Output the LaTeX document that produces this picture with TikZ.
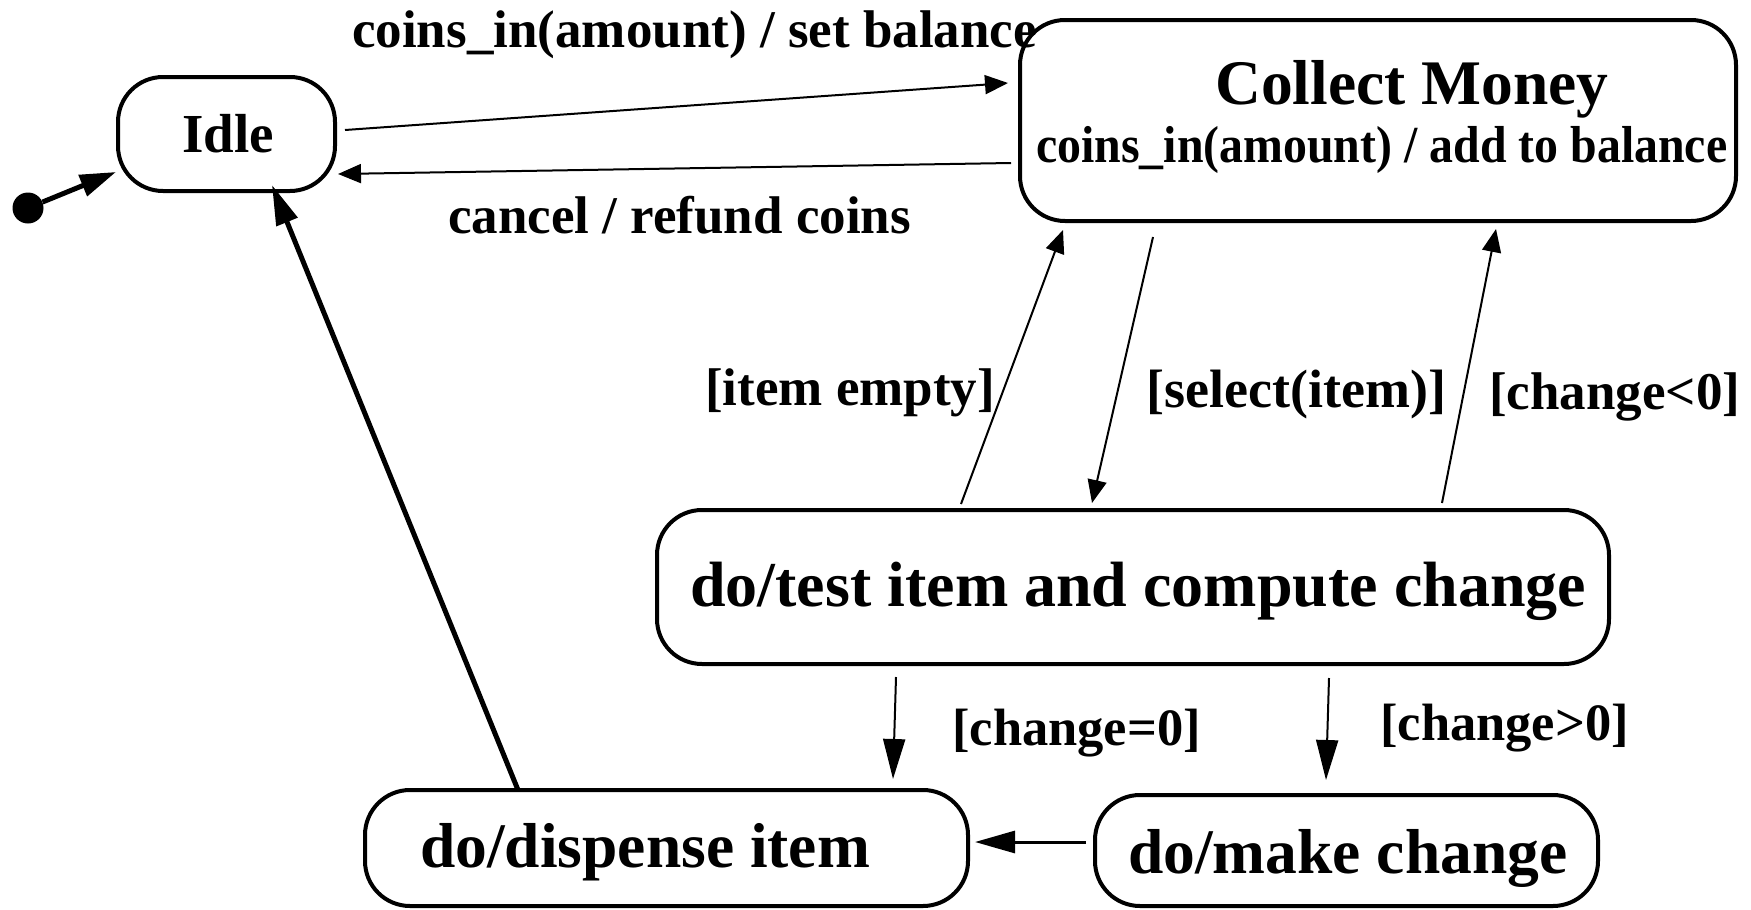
\documentclass[tikz,border=0pt]{standalone}
\usepackage{fontspec}
\setmainfont{Liberation Serif}
\usetikzlibrary{arrows.meta}
\begin{document}
\begin{tikzpicture}[x=1pt,y=-1pt,
  box/.style={draw,line width=4pt,rounded corners=45pt,inner sep=0pt},
  lbl/.style={inner sep=0pt,anchor=base west,font=\bfseries},
  shorthead/.style={line width=2pt,-{Triangle[length=23pt,width=19pt]}},
  longhead/.style={line width=2pt,-{Triangle[length=40pt,width=22pt]}}]
\useasboundingbox[fill=white] (0,0) rectangle (1751,910);

% states
\node[box,minimum width=217pt,minimum height=114pt] (idle) at (226.5,134) {};
\node[box,minimum width=716pt,minimum height=201pt] (collect) at (1378,120.5) {};
\node[box,minimum width=952pt,minimum height=154pt] (test) at (1133,587) {};
\node[box,minimum width=603pt,minimum height=116pt] (dispense) at (666.5,848) {};
\node[box,minimum width=503pt,minimum height=111pt] (make) at (1346.5,850.5) {};
\node[circle,fill,minimum size=31pt,inner sep=0pt] (init) at (28,208) {};

% state texts
\node[lbl,font=\bfseries\fontsize{55}{60}\selectfont] (tidle) at (182,152) {Idle};
\node[lbl,font=\bfseries\fontsize{63.5}{70}\selectfont] (tcollect) at (1215,104) {Collect Money};
\node[lbl,font=\bfseries\fontsize{52}{60}\selectfont] (tcoins) at (1036,162) {\scalebox{0.92}[1]{coins\_in(amount) / add to balance}};
\node[lbl,font=\bfseries\fontsize{64}{70}\selectfont] (ttest) at (690,606) {do/test item and compute change};
\node[lbl,font=\bfseries\fontsize{63.5}{70}\selectfont] (tdisp) at (420,867) {do/dispense item};
\node[lbl,font=\bfseries\fontsize{63.5}{70}\selectfont] (tmake) at (1128,873) {do/make change};

% transition labels
\node[lbl,font=\bfseries\fontsize{53}{60}\selectfont] (l1) at (352,47) {coins\_in(amount) / set balance};
\node[lbl,font=\bfseries\fontsize{53}{60}\selectfont] (l2) at (448,233) {cancel / refund coins};
\node[lbl,font=\bfseries\fontsize{53}{60}\selectfont] (l3) at (705,405) {[item empty]};
\node[lbl,font=\bfseries\fontsize{54}{60}\selectfont] (l4) at (1146,407) {[select(item)]};
\node[lbl,font=\bfseries\fontsize{53}{60}\selectfont] (l5) at (1489,409) {[change<0]};
\node[lbl,font=\bfseries\fontsize{52.5}{60}\selectfont] (l6) at (952,745) {[change=0]};
\node[lbl,font=\bfseries\fontsize{52.5}{60}\selectfont] (l7) at (1380,740) {[change>0]};

% transitions
\draw[line width=5pt,-{Triangle[length=36pt,width=22pt]}] (init) -- ([shift={(0,-21)}]idle.south west);
\draw[shorthead] ([shift={(8,-4)}]idle.east) -- ([shift={(-10,-37.5)}]collect.west);
\draw[shorthead] ([shift={(-7,42.5)}]collect.west) -- ([shift={(1,40)}]idle.east);
\draw[shorthead] ([shift={(-172,-4)}]test.north) -- ([shift={(-315,7)}]collect.south);
\draw[shorthead] ([shift={(-225,14)}]collect.south) -- ([shift={(-41,-5)}]test.north);
\draw[shorthead] ([shift={(309,-5)}]test.north) -- ([shift={(118,6)}]collect.south);
\draw[longhead] ([shift={(-237,11)}]test.south) -- ([shift={(226.5,-9)}]dispense.north);
\draw[longhead] ([shift={(196,12)}]test.south) -- ([shift={(-20.5,-13)}]make.north);
\draw[longhead,line width=3pt] ([shift={(-7,-8.5)}]make.west) -- ([shift={(5,-6)}]dispense.east);
\draw[longhead,line width=5pt] ([shift={(-148.5,2)}]dispense.north) -- ([shift={(45.5,-8)}]idle.south);
\end{tikzpicture}
\end{document}
